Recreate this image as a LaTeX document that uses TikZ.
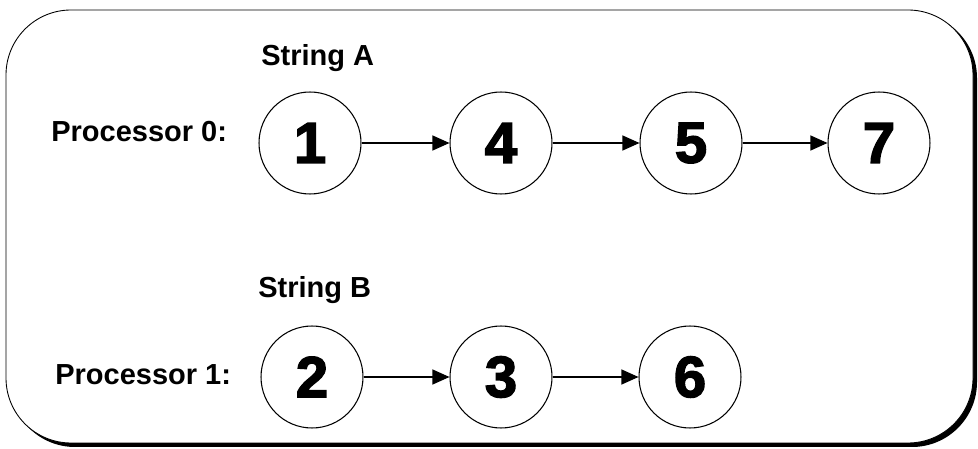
\documentclass[tikz,border=0pt]{standalone}
\usepackage{fontspec}
\setmainfont{Liberation Sans}
\newfontfamily\digitfont[FakeBold=2.6]{Liberation Sans Bold}
\usetikzlibrary{arrows.meta}
\begin{document}
\begin{tikzpicture}[x=0.02cm,y=-0.02cm,
  proc/.style={circle,draw=black,line width=0.6pt,minimum size=2.04cm,inner sep=0pt,
    font=\digitfont\fontsize{33}{33}\selectfont},
  lbl/.style={anchor=base west,inner sep=0pt,font=\bfseries\fontsize{16.5}{18}\selectfont},
  link/.style={line width=0.6pt,-{Triangle[length=0.34cm,width=0.3cm]}},
  frame/.style={rounded corners=1.3cm}]
\useasboundingbox (0,0) rectangle (978,449);
% frame with shadow
\fill[black,frame] (10,13) rectangle (977,447);
\draw[fill=white,line width=0.5pt,frame] (6,10) rectangle (973,443);
% labels
\node[lbl] (sa) at (261,66) {String A};
\node[lbl] (p0) at (51,142) {Processor 0:};
\node[lbl] (sb) at (258,298) {String B};
\node[lbl] (p1) at (55,385) {Processor 1:};
% row 1
\node[proc] (n1) at (310,143) {1};
\node[proc] (n4) at (501,143) {4};
\node[proc] (n5) at (691,143) {5};
\node[proc] (n7) at (879,143) {7};
% row 2
\node[proc] (n2) at (312,377) {2};
\node[proc] (n3) at (501,377) {3};
\node[proc] (n6) at (690,377) {6};
% arrows
\draw[link] (n1) -- (n4);
\draw[link] (n4) -- (n5);
\draw[link] (n5) -- (n7);
\draw[link] (n2) -- (n3);
\draw[link] (n3) -- (n6);
\end{tikzpicture}
\end{document}
